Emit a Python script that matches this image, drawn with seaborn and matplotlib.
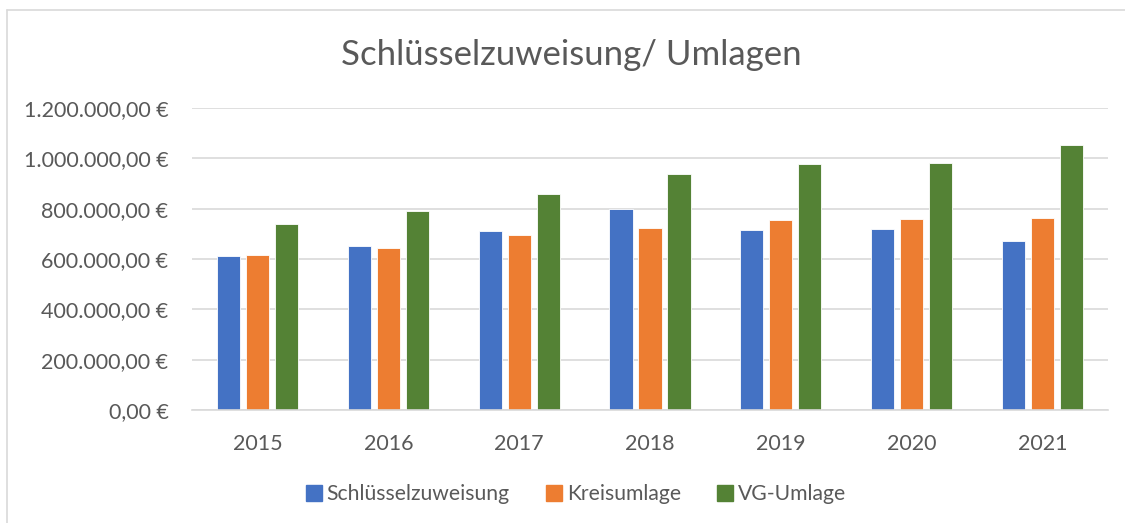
import pandas as pd
import matplotlib.pyplot as plt
import matplotlib.ticker as mticker
from matplotlib.lines import Line2D
import seaborn as sns

# ---------------------------------------------------------
# Data
# ---------------------------------------------------------
years = ["2015", "2016", "2017", "2018", "2019", "2020", "2021"]
schluesselzuweisung = [610000, 652000, 710000, 800000, 716000, 720000, 671000]
kreisumlage = [617000, 645000, 695000, 724000, 756000, 760000, 764000]
vg_umlage = [741000, 792000, 859000, 939000, 979000, 980000, 1053000]
series_names = ["Schlüsselzuweisung", "Kreisumlage", "VG-Umlage"]
colors = ["#4472C4", "#ED7D31", "#548235"]

df = pd.DataFrame({
    "Jahr": years * 3,
    "Serie": [series_names[0]] * 7 + [series_names[1]] * 7 + [series_names[2]] * 7,
    "Wert": schluesselzuweisung + kreisumlage + vg_umlage,
})

# ---------------------------------------------------------
# Plot
# ---------------------------------------------------------
sns.set_theme(style="white")
plt.rcParams["font.family"] = ["Lato", "DejaVu Sans"]
text_color = "#595959"
grid_color = "#D9D9D9"

fig = plt.figure(figsize=(11.25, 5.23), dpi=100)
ax = fig.add_axes([192 / 1125, 1 - 410 / 523, (1108 - 192) / 1125, (410 - 108) / 523])

sns.barplot(
    data=df, x="Jahr", y="Wert", hue="Serie",
    palette=colors, saturation=1, width=0.665, gap=0.2,
    edgecolor="white", linewidth=0.6, ax=ax, legend=False,
)

ax.set_ylim(0, 1200000)
ax.set_xlim(-0.5, 6.5)
ax.yaxis.set_major_locator(mticker.MultipleLocator(200000))


def euro(v, pos):
    s = f"{v:,.2f}".replace(",", "X").replace(".", ",").replace("X", ".")
    return s + " €"


ax.yaxis.set_major_formatter(mticker.FuncFormatter(euro))
ax.grid(axis="y", color=grid_color, linewidth=1.2)
ax.set_axisbelow(True)
for side in ["top", "right", "left"]:
    ax.spines[side].set_visible(False)
ax.spines["bottom"].set_color(grid_color)
ax.spines["bottom"].set_linewidth(1.2)
ax.tick_params(axis="both", length=0, labelsize=15.5, colors=text_color)
ax.tick_params(axis="y", pad=17)
ax.tick_params(axis="x", pad=17)
ax.set_xlabel("")
ax.set_ylabel("")

fig.text(0.508, 1 - 55 / 523, "Schlüsselzuweisung/ Umlagen", ha="center", va="center",
         fontsize=25, color=text_color)

handles = [Line2D([0], [0], marker="s", linestyle="none", markersize=12,
                  markerfacecolor=c, markeredgecolor=c) for c in colors]
fig.legend(handles, series_names, loc="center", bbox_to_anchor=(0.511, 1 - 494 / 523),
           ncol=3, frameon=False, fontsize=15.2, labelcolor=text_color,
           handletextpad=0.1, columnspacing=1.6, handlelength=1.0)

# Chart border (top and left visible)
fig.add_artist(Line2D([7 / 1125, 1.0], [1 - 10 / 523, 1 - 10 / 523], color=grid_color, linewidth=1.2))
fig.add_artist(Line2D([7 / 1125, 7 / 1125], [0, 1 - 10 / 523], color=grid_color, linewidth=1.2))

fig.savefig("out.png", dpi=100)
